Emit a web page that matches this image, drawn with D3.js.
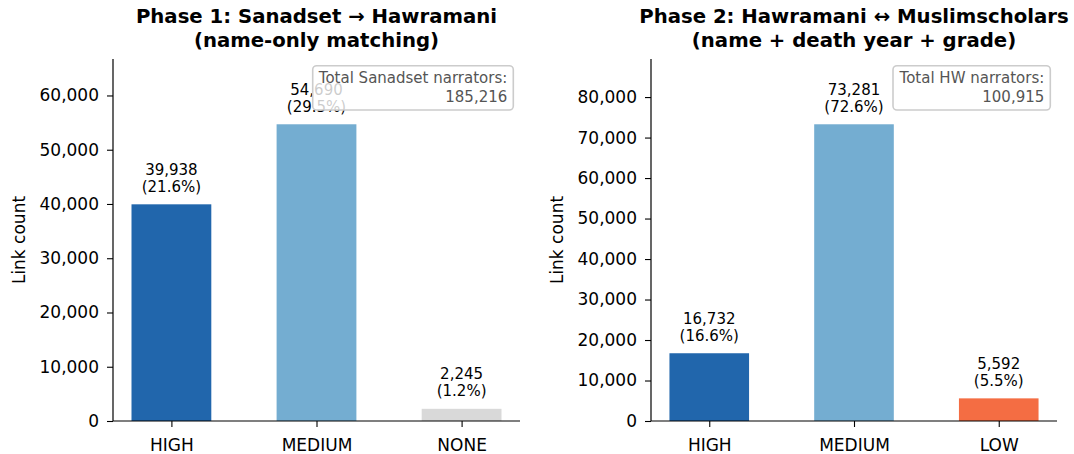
<!DOCTYPE html>
<html><head><meta charset="utf-8">
<script src="https://cdn.jsdelivr.net/npm/d3@7"></script>
<style>
body{margin:0;background:#fff;}
svg{font-family:"DejaVu Sans",sans-serif;}
</style></head>
<body><svg id="c" width="1074" height="454"></svg>
<script>
const phase1Categories = ["HIGH","MEDIUM","NONE"];
const phase1Values = [39938, 54690, 2245];
const phase1Colors = ["#2166ac","#74add1","#d9d9d9"];
const phase1Total = 185216;
const phase1Title = ["Phase 1: Sanadset \u2192 Hawramani","(name-only matching)"];
const phase1BoxLabel = "Total Sanadset narrators:";
const phase1Ticks = [0,10000,20000,30000,40000,50000,60000];

const phase2Categories = ["HIGH","MEDIUM","LOW"];
const phase2Values = [16732, 73281, 5592];
const phase2Colors = ["#2166ac","#74add1","#f46d43"];
const phase2Total = 100915;
const phase2Title = ["Phase 2: Hawramani \u2194 Muslimscholars","(name + death year + grade)"];
const phase2BoxLabel = "Total HW narrators:";
const phase2Ticks = [0,10000,20000,30000,40000,50000,60000,70000,80000];

const svg = d3.select("#c");
const fmt = d3.format(",");

function panel(cfg){
  const {left,right,top,bottom,cats,vals,cols,total,title,boxLabel,ticks,boxLeft} = cfg;
  const g = svg.append("g");
  const n = cats.length, bw = 0.55;
  const x = d3.scaleLinear().domain([-bw/2 - 0.05*(n-1+bw), n-1+bw/2 + 0.05*(n-1+bw)]).range([left,right]);
  const y = d3.scaleLinear().domain([0, d3.max(vals)*1.22]).range([bottom,top]);

  g.selectAll("rect.bar").data(vals).join("rect")
    .attr("x",(d,i)=>x(i-bw/2)).attr("width",x(bw)-x(0))
    .attr("y",d=>y(d)).attr("height",d=>bottom-y(d))
    .attr("fill",(d,i)=>cols[i]);

  // value labels
  vals.forEach((v,i)=>{
    const t = g.append("text").attr("text-anchor","middle").attr("font-size","15px").attr("fill","#000");
    t.append("tspan").attr("x",x(i)).attr("y",y(v)-29.7).text(fmt(v));
    t.append("tspan").attr("x",x(i)).attr("y",y(v)-12.4).text("("+(v/total*100).toFixed(1)+"%)");
  });

  // axes
  const ya = g.append("g").attr("transform",`translate(${left},0)`)
    .call(d3.axisLeft(y).tickValues(ticks).tickFormat(fmt).tickSize(6).tickPadding(8));
  ya.select(".domain").attr("d",`M0,${bottom}V${top}`).attr("stroke","#000").attr("stroke-width",1.2);
  ya.selectAll(".tick line").attr("stroke-width",1.1);
  ya.selectAll("text").attr("font-size","17px").attr("font-family","DejaVu Sans").attr("fill","#000");
  const xa = g.append("g").attr("transform",`translate(0,${bottom})`)
    .call(d3.axisBottom(x).tickValues(d3.range(n)).tickFormat(i=>cats[i]).tickSize(6).tickPadding(5));
  xa.select(".domain").attr("d",`M${left},0H${right}`).attr("stroke","#000").attr("stroke-width",1.2);
  xa.selectAll(".tick line").attr("stroke-width",1.1);
  xa.selectAll("text").attr("font-size","17px").attr("font-family","DejaVu Sans").attr("fill","#000")
    .attr("dy",null).attr("y",null).attr("transform",null);
  xa.selectAll(".tick text").attr("y",29.7);

  // title
  const cx = (left+right)/2;
  g.append("text").attr("x",cx).attr("y",23).attr("text-anchor","middle")
    .attr("font-size","19.7px").attr("font-weight","bold").text(title[0]);
  g.append("text").attr("x",cx).attr("y",47).attr("text-anchor","middle")
    .attr("font-size","19.7px").attr("font-weight","bold").text(title[1]);

  // y label
  g.append("text").attr("transform",`translate(${left-88},${(top+bottom)/2}) rotate(-90)`)
    .attr("text-anchor","middle").attr("font-size","17px").text("Link count");

  // text box
  g.append("rect").attr("x",boxLeft).attr("y",65.7).attr("width",right-6.7-boxLeft).attr("height",44.3)
    .attr("rx",4).attr("fill","white").attr("fill-opacity",0.8).attr("stroke","#cccccc").attr("stroke-width",1.6);
  const tb = g.append("text").attr("text-anchor","end").attr("font-size","15px").attr("fill","#555");
  tb.append("tspan").attr("x",right-12.7).attr("y",83.3).text(boxLabel);
  tb.append("tspan").attr("x",right-12.7).attr("y",101.5).text(fmt(total));
}

panel({left:113,right:520,top:59,bottom:421,cats:phase1Categories,vals:phase1Values,cols:phase1Colors,
  total:phase1Total,title:phase1Title,boxLabel:phase1BoxLabel,ticks:phase1Ticks,boxLeft:312.7});
panel({left:651,right:1057,top:59,bottom:421,cats:phase2Categories,vals:phase2Values,cols:phase2Colors,
  total:phase2Total,title:phase2Title,boxLabel:phase2BoxLabel,ticks:phase2Ticks,boxLeft:893});
</script></body></html>
